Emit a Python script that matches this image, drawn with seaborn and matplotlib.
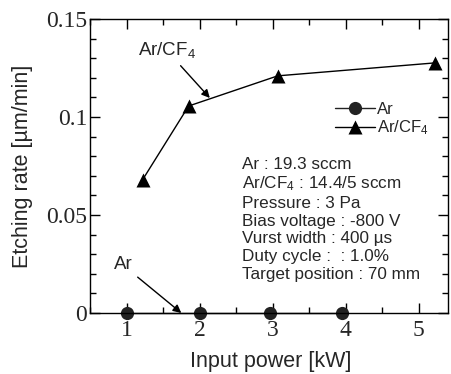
import matplotlib
matplotlib.use("Agg")
import matplotlib.pyplot as plt
import seaborn as sns
import pandas as pd
from matplotlib.ticker import MultipleLocator

ar_power = [1.0, 2.0, 2.97, 3.95]
ar_rate = [0.0, 0.0, 0.0, 0.0]
arcf4_power = [1.22, 1.85, 3.07, 5.22]
arcf4_rate = [0.068, 0.1056, 0.121, 0.1276]
series_names = ["Ar", "Ar/CF$_4$"]
conditions = ["Ar : 19.3 sccm", "Ar/CF$_4$ : 14.4/5 sccm", "Pressure : 3 Pa",
              "Bias voltage : -800 V", "Vurst width : 400 \u00b5s",
              "Duty cycle :  : 1.0%", "Target position : 70 mm"]

sns.set_theme(style="ticks")
plt.rcParams['font.family'] = ['Liberation Sans', 'DejaVu Sans']
plt.rcParams['mathtext.fontset'] = 'custom'
plt.rcParams['mathtext.rm'] = 'Liberation Sans'
plt.rcParams['mathtext.it'] = 'Liberation Sans'

df = pd.concat([
    pd.DataFrame({"power": ar_power, "rate": ar_rate, "gas": series_names[0]}),
    pd.DataFrame({"power": arcf4_power, "rate": arcf4_rate, "gas": series_names[1]}),
])

fig = plt.figure(figsize=(4.51, 3.74), dpi=100)
ax = fig.add_axes([90/451, 1-313/374, 358/451, 294/374])

sns.lineplot(data=df, x="power", y="rate", hue="gas", style="gas",
             markers={series_names[0]: "o", series_names[1]: "^"},
             dashes=False, palette={series_names[0]: "#222222", series_names[1]: "#000000"},
             markersize=9.5, linewidth=1.0, markeredgecolor="none", ax=ax, clip_on=False)

ax.set_xlim(0.5, 5.4)
ax.set_ylim(0, 0.15)
ax.xaxis.set_major_locator(MultipleLocator(1))
ax.xaxis.set_minor_locator(MultipleLocator(0.5))
ax.yaxis.set_major_locator(MultipleLocator(0.05))
ax.yaxis.set_minor_locator(MultipleLocator(0.01))
ax.yaxis.set_major_formatter(matplotlib.ticker.FuncFormatter(lambda v, p: "0" if v == 0 else f"{v:g}"))
ax.tick_params(which="both", direction="in", top=True, right=True, color="black", width=1)
ax.tick_params(which="major", length=7)
ax.tick_params(axis="y", which="major", pad=2)
ax.tick_params(axis="x", which="major", pad=5)
ax.tick_params(which="minor", length=4)
for lab in ax.get_xticklabels() + ax.get_yticklabels():
    lab.set_fontfamily("Liberation Serif")
    lab.set_fontsize(17)
for s in ax.spines.values():
    s.set_color("black")
    s.set_linewidth(1.0)

ax.set_xlabel("Input power [kW]", fontsize=15.5)
ax.set_ylabel("Etching rate [\u00b5m/min]", fontsize=15.5)
ax.yaxis.set_label_coords(-0.16, 0.5)
ax.xaxis.set_label_coords(0.505, -0.128)

leg = ax.legend(loc="upper left", bbox_to_anchor=(0.665, 0.74), frameon=False, fontsize=12,
                handlelength=2.4, handletextpad=0.15, borderaxespad=0, labelspacing=0.08)
leg.set_title(None)

ax.text(0.425, 0.532, "\n".join(conditions), transform=ax.transAxes, fontsize=12.3,
        va="top", ha="left", linespacing=1.22)

ax.annotate("Ar/CF$_4$", xy=(2.14, 0.1097), xytext=(1.55, 0.134), fontsize=13.5,
            ha="center", va="center",
            arrowprops=dict(arrowstyle="-|>", color="black", lw=1, mutation_scale=12, shrinkA=2, shrinkB=0))
ax.annotate("Ar", xy=(1.75, 0.0), xytext=(0.95, 0.0245), fontsize=13.5,
            ha="center", va="center",
            arrowprops=dict(arrowstyle="-|>", color="black", lw=1, mutation_scale=12, shrinkA=2, shrinkB=0))

fig.savefig("out.png", dpi=100)
